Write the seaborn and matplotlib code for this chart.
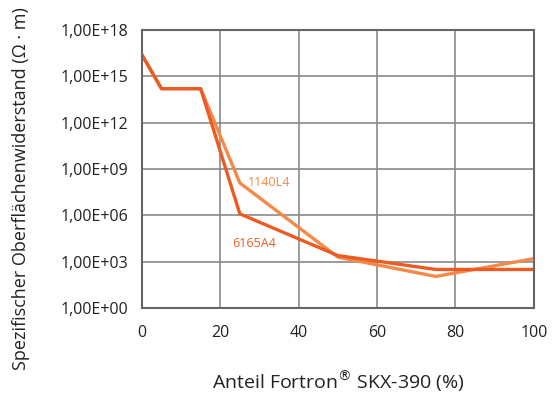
import matplotlib
matplotlib.use("Agg")
import matplotlib.pyplot as plt
import seaborn as sns
import pandas as pd
import numpy as np

# Data
x_1140 = [0, 5, 15, 25, 50, 75, 100]
y_1140 = [10**16.4, 10**14.2, 10**14.2, 10**8.1, 10**3.3, 10**2.05, 10**3.2]
x_6165 = [0, 5, 15, 25, 50, 75, 100]
y_6165 = [10**16.4, 10**14.2, 10**14.2, 10**6.1, 10**3.4, 10**2.5, 10**2.5]
series_names = ["1140L4", "6165A4"]
ytick_vals = [1e0, 1e3, 1e6, 1e9, 1e12, 1e15, 1e18]
ytick_labels = ["1,00E+00", "1,00E+03", "1,00E+06", "1,00E+09", "1,00E+12", "1,00E+15", "1,00E+18"]
xtick_vals = [0, 20, 40, 60, 80, 100]

df = pd.concat([
    pd.DataFrame({"x": x_1140, "y": y_1140, "s": series_names[0]}),
    pd.DataFrame({"x": x_6165, "y": y_6165, "s": series_names[1]}),
])

sns.set_theme(style="white")
plt.rcParams["font.family"] = ["Open Sans", "DejaVu Sans"]

colors = {"1140L4": "#F5894A", "6165A4": "#EE5B22"}

fig = plt.figure(figsize=(5.52, 3.94), dpi=100)
ax = fig.add_axes([0.257, 0.218, 0.710, 0.706])
sns.lineplot(data=df, x="x", y="y", hue="s", palette=colors, ax=ax,
             linewidth=2.4, legend=False, sort=False)
ax.set_yscale("log")
ax.set_xlim(0, 100)
ax.set_ylim(1e0, 1e18)
ax.set_yticks(ytick_vals)
ax.set_yticklabels(ytick_labels)
ax.yaxis.set_minor_locator(matplotlib.ticker.NullLocator())
ax.set_xticks(xtick_vals)
ax.grid(True, color="#8a8a8a", linewidth=1.2)
ax.set_axisbelow(True)
for sp in ax.spines.values():
    sp.set_color("#666666")
    sp.set_linewidth(1.5)
ax.tick_params(axis="y", labelsize=11.5, colors="#222222", length=0, pad=10)
ax.tick_params(axis="x", labelsize=11.5, colors="#222222", length=0, pad=12)
ax.set_xlabel("Anteil Fortron$^{®}$ SKX-390 (%)", fontsize=14, labelpad=20, color="#222222")
ax.set_ylabel("Spezifischer Oberflächenwiderstand (Ω · m)", fontsize=13, color="#222222")
ax.yaxis.set_label_coords(-0.285, 0.43)

ax.text(27, 10**8.1, "1140L4", color=colors["1140L4"], fontsize=9, va="center", ha="left")
ax.text(23, 10**4.2, "6165A4", color=colors["6165A4"], fontsize=9, va="center", ha="left")

fig.savefig("out.png", dpi=100)
